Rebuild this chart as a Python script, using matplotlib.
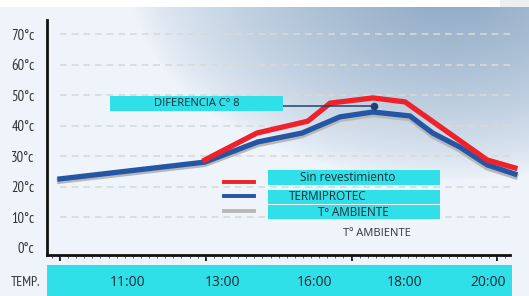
import numpy as np
import matplotlib.pyplot as plt
from matplotlib.patches import Rectangle
from matplotlib.lines import Line2D

# data (hours as decimal, temperature in C)
hours = [10.0, 12.98, 14.07, 14.98, 15.76, 16.44, 17.2, 17.67, 18.23, 18.79, 19.36]
termiprotec = [22.6, 28.1, 34.7, 37.6, 42.9, 44.5, 43.2, 37.6, 33.0, 27.2, 24.2]
ambiente = [22.0, 27.5, 34.0, 36.9, 42.2, 43.8, 42.5, 36.8, 32.2, 26.4, 23.5]
hours_red = [12.98, 14.05, 15.1, 15.56, 16.44, 17.1, 18.79, 19.36]
sin_rev = [28.8, 37.6, 41.5, 47.4, 49.1, 47.8, 28.8, 26.2]

yvals = [0, 10, 20, 30, 40, 50, 60, 70]
ylabels = ['0°c', '10°c', '20°c', '30°c', '40°c', '50°c', '60°c', '70°c']
time_labels = ['11:00', '13:00', '16:00', '18:00', '20:00']
diff_point = (16.46, 46.4)

red = '#ee2228'
blue = '#2556a6'
grey = '#b8b8b8'
cyan = '#2fe0e8'
navy = '#1d4470'
narrow = ['PT Sans Narrow', 'DejaVu Sans']

W, H = 529, 296
fig = plt.figure(figsize=(W / 100, H / 100), dpi=100)


def px(x, y):
    # pixel (from top left) -> figure fraction
    return x / W, 1 - y / H


# background gradient
bg = fig.add_axes([0, 0, 1, 1], zorder=0)
xx, yy = np.meshgrid(np.arange(W), np.arange(H))
d = np.sqrt(((xx - 450) / 320.0) ** 2 + ((yy + 20) / 200.0) ** 2)
t = np.clip(1 - d, 0, 1) ** 0.75
pale = np.array([0.937, 0.957, 0.984])
steel = np.array([0.54, 0.65, 0.76])
img = pale[None, None, :] * (1 - t[..., None]) + steel[None, None, :] * t[..., None]
img[:7, :, :] = 1.0
img[:7, 500:, :] = [0.93, 0.94, 0.94]
bg.imshow(img, aspect='auto', interpolation='bilinear')
bg.axis('off')

ax = fig.add_axes([47 / W, 1 - 255 / H, (510 - 47) / W, (255 - 20) / H], zorder=1)
ax.patch.set_alpha(0)
ax.set_xlim(9.733, 19.26)
ax.set_ylim(-2.3, 74.6)

for v in yvals[1:]:
    ax.plot([10.0, 19.36], [v, v], color='#d9d9d9', lw=1.2, ls=(0, (4, 3)), zorder=1, clip_on=False)

ax.plot(hours, ambiente, color=grey, lw=4.5, solid_joinstyle='miter', zorder=2, clip_on=False)
ax.plot(hours, termiprotec, color=blue, lw=3.8, solid_joinstyle='miter', zorder=3, clip_on=False)
ax.plot(hours_red, sin_rev, color=red, lw=3.8, solid_joinstyle='miter', zorder=4, clip_on=False)

# difference annotation
ax.plot([14.59, diff_point[0]], [diff_point[1], diff_point[1]], color=navy, lw=1.1, zorder=5)
ax.plot([diff_point[0]], [diff_point[1]], 'o', color=navy, ms=4.5, zorder=5)

ax.set_yticks(yvals)
ax.set_yticklabels(ylabels, family=narrow, fontsize=10.5, color='#333333')
ax.tick_params(axis='y', length=0, pad=9)
ax.set_xticks([10, 13, 16, 19])
ax.set_xticklabels([])
ax.set_xticks(np.arange(9.833, 19.3, 1 / 6.0), minor=True)
ax.tick_params(axis='x', which='major', length=4, width=1.3, direction='out', color='#111111')
ax.tick_params(axis='x', which='minor', length=2.5, width=0.7, direction='out', color='#555555')
for s in ['top', 'right']:
    ax.spines[s].set_visible(False)
for s in ['left', 'bottom']:
    ax.spines[s].set_linewidth(2)
    ax.spines[s].set_color('#111111')

# cyan bottom band with time labels
x0, y0 = px(47, 296)
x1, y1 = px(512, 265)
fig.add_artist(Rectangle((x0, y0), x1 - x0, y1 - y0, transform=fig.transFigure,
                         facecolor=cyan, edgecolor='none', zorder=3))
for lab, xp in zip(time_labels, [128, 223, 315, 405, 488]):
    fx, fy = px(xp, 282)
    fig.text(fx, fy, lab, ha='center', va='center', fontsize=10, family='Open Sans',
             color='#1e2a33', zorder=4)
fx, fy = px(26, 283)
fig.text(fx, fy, 'TEMP.', ha='center', va='center', fontsize=10,
         family=narrow, color='#333333', zorder=4)


def label_box(xa, xb, ya, yb, text, xc, size):
    a0, b0 = px(xa, yb)
    a1, b1 = px(xb, ya)
    fig.add_artist(Rectangle((a0, b0), a1 - a0, b1 - b0, transform=fig.transFigure,
                             facecolor=cyan, edgecolor='none', zorder=5))
    tx, ty = px(xc, (ya + yb) / 2)
    fig.text(tx, ty, text, ha='center', va='center', fontsize=size, family='Open Sans',
             color='#1e2a33', zorder=6)


label_box(110, 283, 96, 111, 'DIFERENCIA C° 8', 197, 8)

# legend
label_box(268, 440, 170, 185, 'Sin revestimiento', 348, 8.5)
label_box(268, 440, 190, 204, 'TERMIPROTEC', 328, 8.5)
label_box(268, 440, 205, 219, 'Tº AMBIENTE', 353, 8.5)
for col, yp in [(red, 182), (blue, 196), (grey, 211)]:
    a0, b0 = px(224, yp)
    a1, _ = px(254, yp)
    fig.add_artist(Line2D([a0, a1], [b0, b0], transform=fig.transFigure, color=col, lw=2.8, zorder=6))

tx, ty = px(377, 234)
fig.text(tx, ty, 'Tº AMBIENTE', ha='center', va='center', fontsize=8, family='Open Sans',
         color='#333333', zorder=6)

fig.savefig('out.png', dpi=100)
